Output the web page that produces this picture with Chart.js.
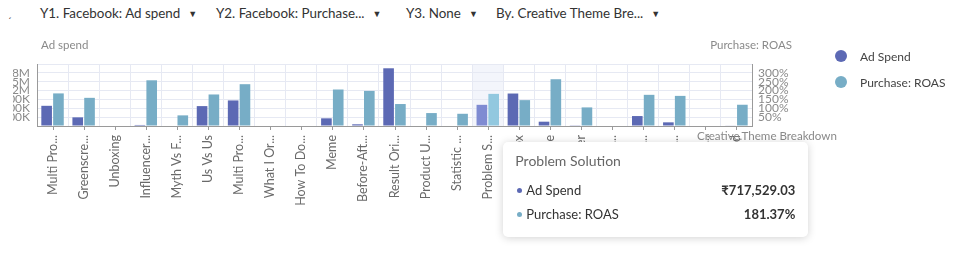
<!DOCTYPE html>
<html><head><meta charset="utf-8">
<script src="https://cdn.jsdelivr.net/npm/chart.js@4.4.1/dist/chart.umd.min.js"></script>
<style>
html,body{margin:0;padding:0;background:#fff;width:961px;height:254px;overflow:hidden;font-family:Lato,"Noto Sans",sans-serif;}
#wrap{position:absolute;left:13px;top:0;width:948px;height:254px;overflow:hidden;}
#wrap canvas{position:absolute;left:-13px;top:0;}
.t{position:absolute;white-space:nowrap;line-height:1;}
.hdr{font-size:13.4px;color:#333;top:7px;}
.hdr span{font-size:9px;margin-left:8px;vertical-align:1px;}
.ax{font-size:11.5px;color:#8a8a8a;}
#legend{position:absolute;left:835px;top:43px;}
.li{display:flex;align-items:center;height:26px;font-size:12px;color:#444;}
.li i{display:inline-block;width:12px;height:12px;border-radius:50%;margin-right:13px;}
#tip{position:absolute;display:none;background:#fff;border-radius:5px;box-shadow:0 1px 8px rgba(0,0,0,0.18);box-sizing:border-box;padding:10px 13px 0 12px;}
#tip .tt{font-size:14px;color:#666;height:26px;line-height:18px;}
#tip .row{display:flex;justify-content:space-between;align-items:center;height:24px;font-size:13px;color:#333;}
#tip .row b{font-weight:700;}
#tip .dot{display:inline-block;width:5px;height:5px;border-radius:50%;margin:0 4px 2px 2px;vertical-align:middle;}
</style></head>
<body>
<div class="t hdr" style="left:8px;font-size:10px;top:8px">ˏ</div>
<div class="t hdr" style="left:40px">Y1. Facebook: Ad spend<span>▼</span></div>
<div class="t hdr" style="left:216px">Y2. Facebook: Purchase...<span>▼</span></div>
<div class="t hdr" style="left:406px">Y3. None<span>▼</span></div>
<div class="t hdr" style="left:496px">By. Creative Theme Bre...<span>▼</span></div>
<div id="wrap"><canvas id="c" width="961" height="254"></canvas></div>
<div class="t ax" style="left:41px;top:39px">Ad spend</div>
<div class="t ax" style="right:169px;top:39px">Purchase: ROAS</div>
<div class="t ax" style="left:697px;top:130px;font-size:11.6px">Creative.Theme Breakdown</div>
<div id="legend"></div>
<div id="tip"></div>
<script>
const categories = ["Multi Product","Greenscreen","Unboxing","Influencer Led","Myth Vs Fact","Us Vs Us","Multi Product Demo","What I Ordered","How To Do It","Meme","Before-After","Result Oriented","Product Usage","Statistic Led","Problem Solution","Gift Box","Lifestyle","Founder","Testimonial Led","Comparison Led","Behind The Scenes","Seasonal Offer","Offer Led"];
const tickLabels = ["Multi Pro...","Greenscre...","Unboxing","Influencer...","Myth Vs F...","Us Vs Us","Multi Pro...","What I Or...","How To Do...","Meme","Before-Aft...","Result Ori...","Product U...","Statistic ...","Problem S...","Gift Box","Lifestyle","Founder","Testimoni...","Comparis...","Behind Th...","Seasonal...","Offer Led"];
const adSpend = [684000,293000,0,35000,0,674000,866000,0,0,260000,57000,1955000,0,0,717529.03,1100000,146000,10000,0,337000,124000,0,20000];
const roas = [184,159,0,258,60,178,236,0,0,206,198,124,73,69,181.37,146,264,105,0,176,170,0,120];
const adTicks = [300000,600000,900000,1200000,1500000,1800000];
const roasTicks = [50,100,150,200,250,300];
const activeIndex = 14;

const gridColor = '#e6e9f3';
const axisColor = '#9a9a9a';

const bandPlugin = {
  id:'band',
  beforeDraw(chart){
    const act = chart.getActiveElements();
    if(!act.length) return;
    const x = chart.scales.x, a = chart.chartArea;
    const w = x.getPixelForValue(1) - x.getPixelForValue(0);
    const cx = x.getPixelForValue(act[0].index);
    const ctx = chart.ctx; ctx.save();
    ctx.fillStyle = '#f3f5fb';
    ctx.fillRect(cx - w/2, a.top, w, a.bottom - a.top);
    ctx.restore();
  }
};
const tickPlugin = {
  id:'centerTicks',
  afterDraw(chart){
    const x = chart.scales.x, a = chart.chartArea, ctx = chart.ctx;
    ctx.save(); ctx.strokeStyle = axisColor; ctx.lineWidth = 1;
    ctx.beginPath();
    x.ticks.forEach((t,i)=>{ const p = Math.round(x.getPixelForTick(i))+0.5; ctx.moveTo(p,a.bottom); ctx.lineTo(p,a.bottom+4); });
    ctx.stroke(); ctx.restore();
  }
};

function fmtK(v){ return v>=1e6 ? (v/1e6).toFixed(1)+'M' : Math.round(v/1000)+'K'; }

function externalTip(ctx){
  const {chart, tooltip} = ctx;
  const el = document.getElementById('tip');
  if(tooltip.opacity === 0){ el.style.display='none'; return; }
  const dp = tooltip.dataPoints;
  const i = dp[0].dataIndex;
  let html = '<div class="tt">'+categories[i]+'</div>';
  dp.forEach(d=>{
    const ds = d.dataset;
    const val = d.datasetIndex===0 ? '₹'+d.raw.toLocaleString('en-US',{minimumFractionDigits:2,maximumFractionDigits:2}) : d.raw.toFixed(2)+'%';
    html += '<div class="row"><span><span class="dot" style="background:'+ds.backgroundColor+'"></span>'+ds.label+'</span><b>'+val+'</b></div>';
  });
  el.innerHTML = html;
  const x = chart.scales.x;
  const w = x.getPixelForValue(1) - x.getPixelForValue(0);
  el.style.left = (x.getPixelForValue(i) + w/2) + 'px';
  el.style.top = (chart.chartArea.bottom + 16) + 'px';
  el.style.width = '305px'; el.style.height = '95px';
  el.style.display = 'block';
}

const chart = new Chart(document.getElementById('c'), {
  type:'bar',
  data:{ labels: tickLabels, datasets:[
    {label:'Ad Spend', data: adSpend, yAxisID:'y', backgroundColor:'#5c69b4', hoverBackgroundColor:'#7f8bd2', borderWidth:0},
    {label:'Purchase: ROAS', data: roas, yAxisID:'y1', backgroundColor:'#77adc6', hoverBackgroundColor:'#92c8df', borderWidth:0}
  ]},
  options:{
    responsive:false, animation:false, events:[],
    layout:{padding:{left:0,right:161,top:64,bottom:38}},
    categoryPercentage:0.76, barPercentage:0.9,
    interaction:{mode:'index', intersect:false},
    plugins:{
      legend:{display:false},
      tooltip:{enabled:false, external: externalTip, mode:'index', intersect:false}
    },
    scales:{
      x:{
        grid:{color:gridColor, drawTicks:false, offset:true},
        border:{color:axisColor},
        ticks:{autoSkip:false, minRotation:90, maxRotation:90, padding:9, color:'#6a6a6a', font:{family:'Lato', size:12.5}},
        afterFit(s){ s.height = 90; }
      },
      y:{
        position:'left', min:0, max:2100000,
        afterBuildTicks(s){ s.ticks = [0].concat(adTicks, [2100000]).map(v=>({value:v})); },
        grid:{color:gridColor, drawTicks:false},
        border:{color:axisColor},
        ticks:{autoSkip:false, padding:7, color:'#8a8a8a', font:{family:'Lato', size:12}, callback:(v)=> adTicks.includes(v) ? fmtK(v) : ''},
        afterFit(s){ s.width = 37; }
      },
      y1:{
        position:'right', min:0, max:350,
        afterBuildTicks(s){ s.ticks = [0].concat(roasTicks, [350]).map(v=>({value:v})); },
        grid:{drawOnChartArea:false, drawTicks:false},
        border:{color:axisColor},
        ticks:{autoSkip:false, padding:6, color:'#8a8a8a', font:{family:'Lato', size:12}, callback:(v)=> roasTicks.includes(v) ? v+'%' : ''},
        afterFit(s){ s.width = 48; }
      }
    }
  },
  plugins:[bandPlugin, tickPlugin]
});

document.getElementById('legend').innerHTML = chart.data.datasets.map(d=>'<div class="li"><i style="background:'+d.backgroundColor+'"></i>'+d.label+'</div>').join('');

const act = chart.data.datasets.map((d,di)=>({datasetIndex:di, index:activeIndex}));
chart.setActiveElements(act);
const el0 = chart.getDatasetMeta(0).data[activeIndex];
chart.tooltip.setActiveElements(act, {x: el0.x, y: el0.y});
chart.update();
</script>
</body></html>
